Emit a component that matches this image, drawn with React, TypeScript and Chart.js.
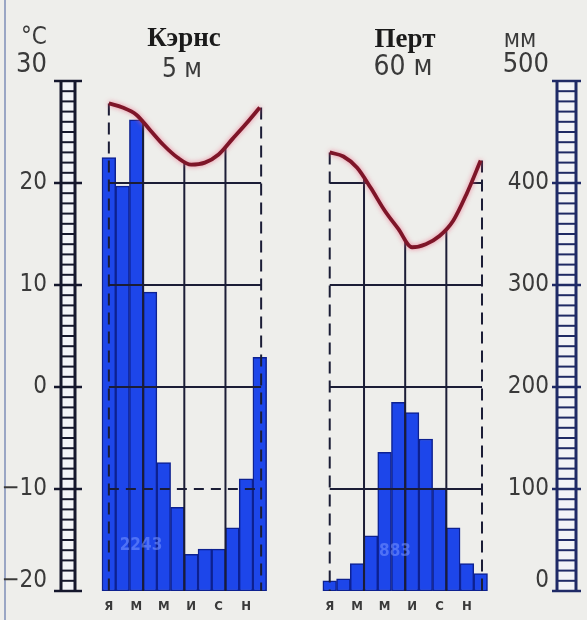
import React, { useEffect, useRef } from "react";
import { Chart, registerables } from "chart.js";

Chart.register(...registerables);

// ---------- data ----------
const stationNames = ["Кэрнс", "Перт"];
const stationHeights = ["5 м", "60 м"];
const annualTotals = ["2243", "883"];
const monthLetters = ["Я", "М", "М", "И", "С", "Н"];
const labelledMonths = [0, 2, 4, 6, 8, 10];
const cairnsPrecip = [425, 397, 462, 293, 126, 82, 36, 41, 41, 62, 110, 229];
const perthPrecip = [10, 12, 27, 54, 136, 185, 175, 149, 101, 62, 27, 17];
const cairnsTemp = [27.8, 27.4, 26.7, 25.2, 23.7, 22.5, 21.8, 22.0, 22.8, 24.3, 25.8, 27.4];
const perthTemp = [23.0, 22.6, 21.5, 19.5, 17.3, 15.5, 13.7, 14.0, 14.8, 16.3, 19.0, 22.2];
const tempRange = [-20, 30];
const precipRange = [0, 500];
const tempStep = 10;
const precipStep = 100;
const panelStart = [0, 16.1];
const gridLevels = [20, 10, 0, -10];
const dashedLevels = [[-10], []];
const gridMonths = [3, 6, 9];
const frameEdges = [0.5, 11.6];
const xRange = [-1.822, 28.72];

const precipSets = [cairnsPrecip, perthPrecip];
const tempSets = [cairnsTemp, perthTemp];

// ---------- style ----------
const NUM_FONT = '"DejaVu Sans Condensed", "DejaVu Sans", sans-serif';
const TITLE_FONT = '"Liberation Serif", "DejaVu Serif", serif';
const BAR = "#1d46ea";
const BAR_EDGE = "#0d2191";
const LINE = "#7e1528";
const GRID = "#1b1d36";
const TEXT = "#3a3a3a";
const BG = "#eeeeeb";

const fmt = (v: number) => (v < 0 ? "\u2212" + Math.abs(v) : String(v));

const noVPad = (scale: any) => {
  scale.paddingTop = 0;
  scale.paddingBottom = 0;
};

const gridPlugin = {
  id: "climateGrid",
  beforeDatasetDraw(chart: any, args: any) {
    const ds = chart.data.datasets[args.index];
    if (ds.type !== "line") return;
    const p = ds.panel;
    const { ctx } = chart;
    const x = chart.scales.x;
    const yT = chart.scales.yT;
    const pts = args.meta.data;
    if (!pts || !pts.length) return;
    const first = pts[0];
    const last = pts[pts.length - 1];
    const xl = x.getPixelForValue(panelStart[p] + frameEdges[0]);
    const xr = x.getPixelForValue(panelStart[p] + frameEdges[1]);
    const yb = yT.getPixelForValue(tempRange[0]);

    ctx.save();
    ctx.beginPath();
    const line = args.meta.dataset;
    if (line && typeof line.path === "function") {
      line.path(ctx);
    } else {
      ctx.moveTo(first.x, first.y);
      pts.forEach((pt: any) => ctx.lineTo(pt.x, pt.y));
    }
    ctx.lineTo(xr + 3, last.y);
    ctx.lineTo(xr + 3, yb + 2);
    ctx.lineTo(xl - 3, yb + 2);
    ctx.lineTo(xl - 3, first.y);
    ctx.closePath();
    ctx.clip();
    ctx.strokeStyle = GRID;
    ctx.lineWidth = 2;
    gridLevels.forEach((t) => {
      const y = yT.getPixelForValue(t);
      ctx.setLineDash(dashedLevels[p].includes(t) ? [10, 7] : []);
      ctx.beginPath();
      ctx.moveTo(xl, y);
      ctx.lineTo(xr, y);
      ctx.stroke();
    });
    ctx.setLineDash([]);
    gridMonths.forEach((m) => {
      const px = x.getPixelForValue(panelStart[p] + m);
      ctx.beginPath();
      ctx.moveTo(px, chart.chartArea.top);
      ctx.lineTo(px, yb);
      ctx.stroke();
    });
    ctx.restore();

    ctx.save();
    ctx.strokeStyle = GRID;
    ctx.lineWidth = 2;
    ctx.setLineDash([12, 7]);
    [
      [xl, first.y],
      [xr, last.y],
    ].forEach(([px, py]) => {
      ctx.beginPath();
      ctx.moveTo(px, py);
      ctx.lineTo(px, yb);
      ctx.stroke();
    });
    ctx.restore();

    ctx.save();
    ctx.shadowColor = "rgba(235, 95, 125, 0.75)";
    ctx.shadowBlur = 5;
  },
  afterDatasetDraw(chart: any, args: any) {
    const ds = chart.data.datasets[args.index];
    if (ds.type !== "line") return;
    chart.ctx.restore();
  },
};

const ladderPlugin = {
  id: "ladders",
  afterDraw(chart: any) {
    const { ctx, chartArea } = chart;
    const yT = chart.scales.yT;
    const top = yT.getPixelForValue(tempRange[1]);
    const bot = yT.getPixelForValue(tempRange[0]);
    const draw = (x0: number, x1: number, color: string, ext: number) => {
      ctx.save();
      ctx.fillStyle = "#f2f3f7";
      ctx.fillRect(x0, top, x1 - x0, bot - top);
      ctx.strokeStyle = color;
      for (let v = tempRange[0]; v <= tempRange[1]; v += 1) {
        const y = yT.getPixelForValue(v);
        const major = v % tempStep === 0;
        ctx.lineWidth = major ? 2.5 : 2;
        ctx.beginPath();
        ctx.moveTo(major ? x0 - ext : x0, y);
        ctx.lineTo(major ? x1 + ext : x1, y);
        ctx.stroke();
      }
      ctx.lineWidth = 3;
      ctx.beginPath();
      ctx.moveTo(x0, top);
      ctx.lineTo(x0, bot);
      ctx.moveTo(x1, top);
      ctx.lineTo(x1, bot);
      ctx.stroke();
      ctx.restore();
    };
    draw(chartArea.left - 16, chartArea.left - 2, "#15172c", 7);
    draw(chartArea.right + 61, chartArea.right + 80, "#1f2a66", 5);
  },
};

const txt = (
  s: string,
  cx: number,
  cy: number,
  size: number,
  family: string,
  weight: string | number = "normal",
  color = TEXT
) => (
  <div
    style={{
      position: "absolute",
      left: cx,
      top: cy,
      transform: "translate(-50%, -50%)",
      whiteSpace: "nowrap",
      fontFamily: family,
      fontSize: size,
      fontWeight: weight as any,
      color,
      lineHeight: 1,
    }}
  >
    {s}
  </div>
);

export default function App() {
  const ref = useRef<HTMLCanvasElement | null>(null);

  useEffect(() => {
    if (!ref.current) return;
    const datasets: any[] = [
      ...precipSets.map((arr, p) => ({
        type: "bar",
        label: stationNames[p],
        yAxisID: "yP",
        xAxisID: "x",
        data: arr.map((v, i) => ({ x: panelStart[p] + i + 0.5, y: v })),
        backgroundColor: BAR,
        borderColor: BAR_EDGE,
        borderWidth: 1.5,
        borderSkipped: false,
        barPercentage: 1,
        categoryPercentage: 1,
        grouped: false,
        order: 2,
      })),
      ...tempSets.map((arr, p) => ({
        type: "line",
        label: stationNames[p],
        panel: p,
        yAxisID: "yT",
        xAxisID: "x",
        data: arr.map((v, i) => ({ x: panelStart[p] + i + 0.5, y: v })),
        borderColor: LINE,
        borderWidth: 3.8,
        pointRadius: 0,
        cubicInterpolationMode: "monotone",
        fill: false,
        order: 1,
      })),
    ];

    const tickFont = (range: number[]) => (c: any) => {
      const v = c.tick ? c.tick.value : 0;
      if (v === range[1]) return { family: NUM_FONT, size: 27, lineHeight: 1.15 };
      if (v === range[0]) return { family: NUM_FONT, size: 24, lineHeight: 0.85 };
      return { family: NUM_FONT, size: 24 };
    };

    const chart = new Chart(ref.current, {
      type: "line",
      data: { datasets },
      options: {
        animation: false,
        responsive: false,
        maintainAspectRatio: false,
        layout: { padding: { top: 81, left: 0, right: 0, bottom: 0 } },
        plugins: {
          legend: { display: false },
          tooltip: { enabled: false },
          title: { display: false },
        },
        scales: {
          x: {
            type: "linear",
            min: xRange[0],
            max: xRange[1],
            offset: false,
            grid: { display: false, drawTicks: false },
            border: { display: false },
            afterBuildTicks: (scale: any) => {
              scale.ticks = panelStart.flatMap((o) =>
                labelledMonths.map((m) => ({ value: o + m + 0.5 }))
              );
            },
            afterFit: (scale: any) => {
              scale.height = 29;
              scale.paddingLeft = 0;
              scale.paddingRight = 0;
            },
            ticks: {
              autoSkip: false,
              maxRotation: 0,
              padding: 8,
              color: TEXT,
              font: { family: NUM_FONT, size: 13, weight: "bold" },
              callback: (_v: any, i: number) => monthLetters[i % monthLetters.length],
            },
          },
          yT: {
            type: "linear",
            position: "left",
            min: tempRange[0],
            max: tempRange[1],
            grid: { display: false, drawTicks: false },
            border: { display: false },
            afterFit: (scale: any) => {
              scale.width = 77;
              noVPad(scale);
            },
            ticks: {
              stepSize: tempStep,
              padding: 30,
              color: TEXT,
              font: tickFont(tempRange),
              callback: (v: any) =>
                v === tempRange[1] || v === tempRange[0] ? [fmt(v), ""] : fmt(v),
            },
          },
          yP: {
            type: "linear",
            position: "right",
            min: precipRange[0],
            max: precipRange[1],
            grid: { display: false, drawTicks: false },
            border: { display: false },
            afterFit: (scale: any) => {
              scale.width = 91;
              noVPad(scale);
            },
            ticks: {
              stepSize: precipStep,
              mirror: true,
              padding: 53,
              color: TEXT,
              font: tickFont(precipRange),
              callback: (v: any) =>
                v === precipRange[1] || v === precipRange[0] ? [String(v), ""] : String(v),
            },
          },
        },
      } as any,
      plugins: [gridPlugin, ladderPlugin],
    } as any);
    return () => chart.destroy();
  }, []);

  return (
    <div
      style={{
        position: "fixed",
        left: 0,
        top: 0,
        width: 587,
        height: 620,
        background: BG,
        overflow: "hidden",
      }}
    >
      <div
        style={{
          position: "absolute",
          left: 4,
          top: 0,
          width: 2,
          height: 620,
          background: "#9aa6c4",
        }}
      />
      <canvas ref={ref} width={587} height={620} style={{ display: "block", position: "absolute", left: 0, top: 0 }} />
      {txt("°C", 34, 36, 24, NUM_FONT)}
      {txt("мм", 520, 39, 24, NUM_FONT)}
      {txt(stationNames[0], 184, 37, 27, TITLE_FONT, "bold", "#1a1a1a")}
      {txt(stationHeights[0], 182, 68, 26, NUM_FONT)}
      {txt(stationNames[1], 405, 38, 27, TITLE_FONT, "bold", "#1a1a1a")}
      {txt(stationHeights[1], 403, 66, 28, NUM_FONT)}
      {txt(annualTotals[0], 141, 544, 17, NUM_FONT, "bold", "rgba(120,150,255,0.55)")}
      {txt(annualTotals[1], 395, 550, 17, NUM_FONT, "bold", "rgba(120,150,255,0.55)")}
    </div>
  );
}
